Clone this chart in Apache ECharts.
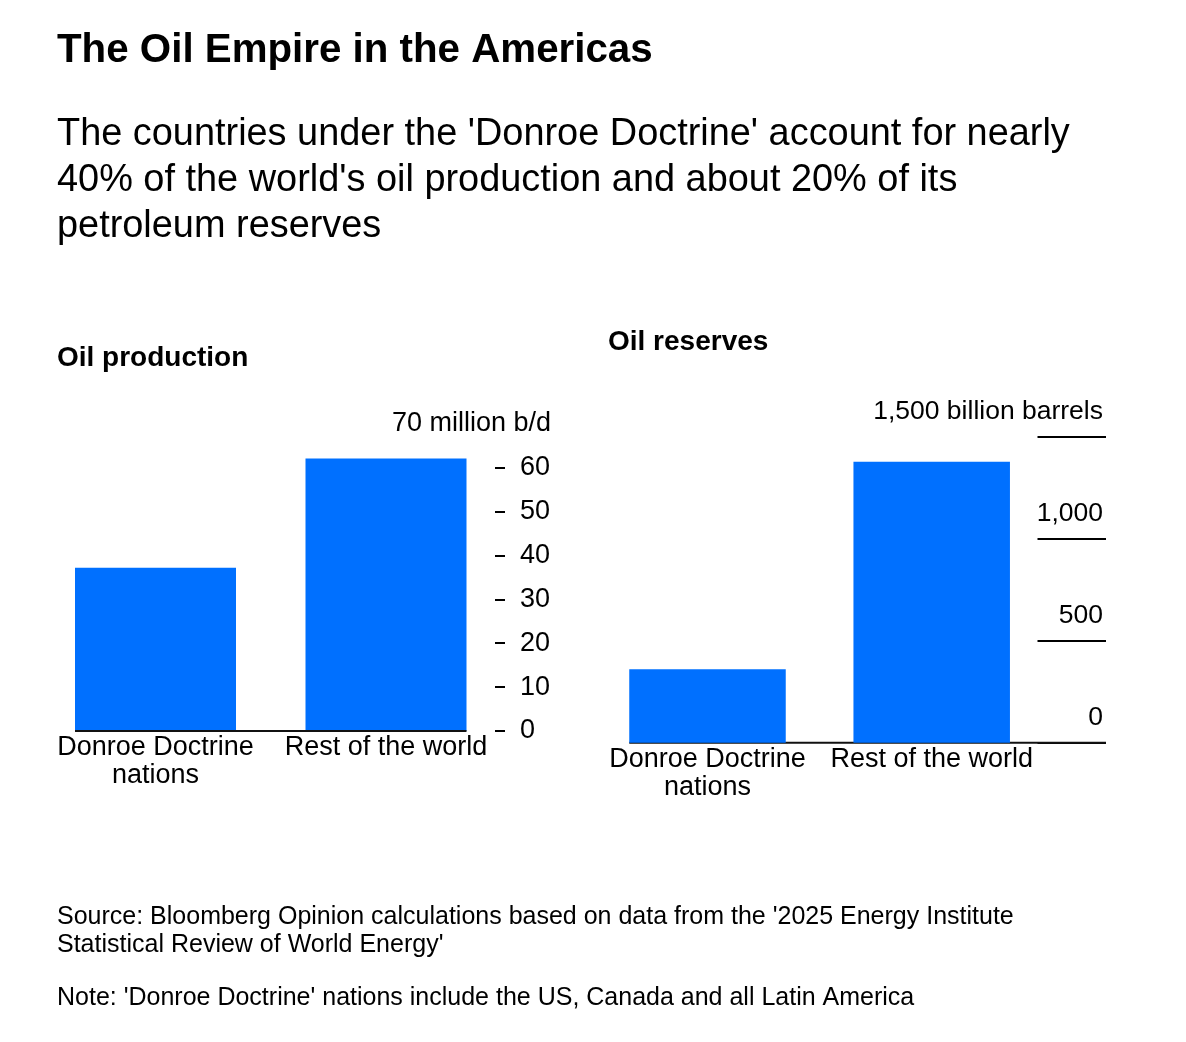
<!DOCTYPE html>
<html>
<head>
<meta charset="utf-8">
<style>
  html, body { margin: 0; padding: 0; background: #fff; }
  #chart { width: 1186px; height: 1042px; }
</style>
<script src="https://cdn.jsdelivr.net/npm/echarts@6.0.0/dist/echarts.min.js"></script>
</head>
<body>
<div id="chart"></div>
<script>
// ---- Data ----
const categories = ['Donroe Doctrine\nnations', 'Rest of the world'];
const productionValues = [37.2, 62.1];          // million b/d
const reservesValues = [360, 1377];             // billion barrels
const productionTicks = [0, 10, 20, 30, 40, 50, 60];
const productionMax = 70;
const productionUnitLabel = '70 million b/d';
const reservesTicks = [0, 500, 1000, 1500];
const reservesUnitLabel = '1,500 billion barrels';

const titleText = 'The Oil Empire in the Americas';
const subtitleText = "The countries under the 'Donroe Doctrine' account for nearly\n40% of the world's oil production and about 20% of its\npetroleum reserves";
const panelTitles = ['Oil production', 'Oil reserves'];
const sourceText = "Source: Bloomberg Opinion calculations based on data from the '2025 Energy Institute\nStatistical Review of World Energy'";
const noteText = "Note: 'Donroe Doctrine' nations include the US, Canada and all Latin America";

// ---- Style / layout ----
const FONT = "'Liberation Sans', Arial, Helvetica, sans-serif";
const BLUE = '#0070ff';
const INK = '#000000';

const g0 = { left: 40.25, width: 461, top: 423.8, bottom: 311 };
const g1 = { left: 595.4, width: 448.4, top: 436.7, bottom: 299.3 };
const bw0 = 161, bw1 = 156.5;
const yOff0 = -6.25, yOff1 = 62.2;

const chart = echarts.init(document.getElementById('chart'), null, { renderer: 'canvas' });

const option = {
  backgroundColor: '#ffffff',
  animation: false,
  textStyle: { fontFamily: FONT, color: INK },
  title: [
    { text: titleText, left: 57, top: 31, padding: 0,
      textStyle: { fontFamily: FONT, fontSize: 40.3, fontWeight: 'bold', color: INK, lineHeight: 40 } },
    { text: subtitleText, left: 57, top: 112, padding: 0,
      textStyle: { fontFamily: FONT, fontSize: 37.9, fontWeight: 'normal', color: INK, lineHeight: 46 } },
    { text: panelTitles[0], left: 57, top: 344.5, padding: 0,
      textStyle: { fontFamily: FONT, fontSize: 28, fontWeight: 'bold', color: INK, lineHeight: 27 } },
    { text: panelTitles[1], left: 608, top: 328.5, padding: 0,
      textStyle: { fontFamily: FONT, fontSize: 28, fontWeight: 'bold', color: INK, lineHeight: 27 } },
    { text: sourceText, left: 57, top: 903, padding: 0,
      textStyle: { fontFamily: FONT, fontSize: 25, fontWeight: 'normal', color: INK, lineHeight: 28 } },
    { text: noteText, left: 57, top: 984, padding: 0,
      textStyle: { fontFamily: FONT, fontSize: 25, fontWeight: 'normal', color: INK, lineHeight: 28 } }
  ],
  grid: [
    { left: g0.left, width: g0.width, top: g0.top, bottom: g0.bottom, containLabel: false, outerBoundsMode: 'none' },
    { left: g1.left, width: g1.width, top: g1.top, bottom: g1.bottom, containLabel: false, outerBoundsMode: 'none' }
  ],
  xAxis: [
    { type: 'category', gridIndex: 0, data: categories,
      axisLine: { show: false }, axisTick: { show: false },
      axisLabel: { margin: 3, fontSize: 27, lineHeight: 28, color: INK, fontFamily: FONT, interval: 0 } },
    { type: 'category', gridIndex: 1, data: categories,
      axisLine: { show: false }, axisTick: { show: false },
      axisLabel: { margin: 3, fontSize: 27, lineHeight: 28, color: INK, fontFamily: FONT, interval: 0 } }
  ],
  yAxis: [
    { type: 'value', gridIndex: 0, position: 'right', offset: yOff0,
      min: 0, max: productionMax, interval: 10,
      splitLine: { show: false }, axisLine: { show: false },
      axisTick: { show: true, inside: false, length: 10, customValues: productionTicks,
                  lineStyle: { color: INK, width: 2 } },
      axisLabel: {
        margin: 56, align: 'right', fontSize: 27, color: INK, fontFamily: FONT,
        formatter: v => (v === productionMax ? productionUnitLabel : '{n|' + v + '}'),
        rich: { n: { width: 31, align: 'left', fontSize: 27, color: INK, fontFamily: FONT } }
      } },
    { type: 'value', gridIndex: 1, position: 'right', offset: yOff1,
      min: reservesTicks[0], max: reservesTicks[reservesTicks.length - 1], interval: 500,
      splitLine: { show: false }, axisLine: { show: false },
      axisTick: { show: true, inside: true, length: 68.5, lineStyle: { color: INK, width: 2 } },
      axisLabel: {
        inside: true, margin: 3, align: 'right', verticalAlign: 'bottom', padding: [0, 0, 11, 0],
        fontSize: 26.5, lineHeight: 28, color: INK, fontFamily: FONT,
        formatter: v => (v === reservesTicks[reservesTicks.length - 1] ? reservesUnitLabel : v.toLocaleString('en-US'))
      } }
  ],
  series: [
    { type: 'bar', name: 'Oil production', xAxisIndex: 0, yAxisIndex: 0,
      data: productionValues, barWidth: bw0, itemStyle: { color: BLUE }, z: 2 },
    { type: 'bar', name: 'Oil reserves', xAxisIndex: 1, yAxisIndex: 1,
      data: reservesValues, barWidth: bw1, itemStyle: { color: BLUE }, z: 3 }
  ]
};

chart.setOption(option);

// Baselines derived from the library's own scales
const a0 = chart.convertToPixel({ xAxisIndex: 0, yAxisIndex: 0 }, [0, 0]);
const a1 = chart.convertToPixel({ xAxisIndex: 0, yAxisIndex: 0 }, [1, 0]);
const b0 = chart.convertToPixel({ xAxisIndex: 1, yAxisIndex: 1 }, [0, 0]);
const g1Right = g1.left + g1.width + yOff1;

chart.setOption({
  graphic: [
    { type: 'line', z: 10, silent: true,
      shape: { x1: a0[0] - bw0 / 2, y1: a0[1], x2: a1[0] + bw0 / 2, y2: a1[1] },
      style: { stroke: '#111', lineWidth: 2 } },
    { type: 'line', z: 1, silent: true,
      shape: { x1: b0[0] - bw1 / 2, y1: b0[1], x2: g1Right, y2: b0[1] },
      style: { stroke: '#111', lineWidth: 2 } }
  ]
});
</script>
</body>
</html>
